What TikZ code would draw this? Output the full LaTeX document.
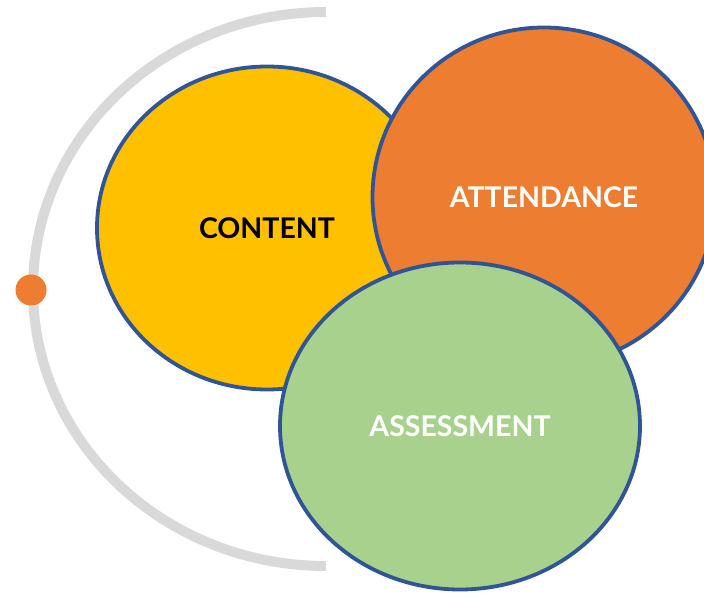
\documentclass[tikz,border=0pt]{standalone}
\usepackage{fontspec}
\setmainfont{Lato}
\usetikzlibrary{shapes.geometric}
\definecolor{cYellow}{HTML}{FFC000}
\definecolor{cOrange}{HTML}{ED7D31}
\definecolor{cGreen}{HTML}{A9D18E}
\definecolor{cBlue}{HTML}{2F5597}
\definecolor{cGray}{HTML}{D9D9D9}
\tikzset{
  bubble/.style={ellipse, draw=cBlue, line width=3.8pt, inner sep=0pt,
    font=\fontsize{28.5}{30}\selectfont\bfseries},
}
\begin{document}
\begin{tikzpicture}[x=1pt,y=-1pt]
\useasboundingbox (0,0) rectangle (704,593);
% gray arc
\draw[cGray, line width=10pt] (326,12) arc[start angle=270, end angle=90, x radius=293, y radius=277];
\node[circle, fill=cOrange, minimum size=31pt, inner sep=0pt] (dot) at (31,290) {};
% bubbles
\node[bubble, fill=cYellow, text=black, minimum width=340pt, minimum height=323pt] (content) at (267,228) {CONTENT};
\node[bubble, fill=cOrange, text=white, minimum width=343pt, minimum height=339pt, text depth=0pt] (attend) at (544,197) {ATTENDANCE};
\node[bubble, fill=cGreen, text=white, minimum width=360pt, minimum height=327pt] (assess) at (460,426) {ASSESSMENT};
\end{tikzpicture}
\end{document}
